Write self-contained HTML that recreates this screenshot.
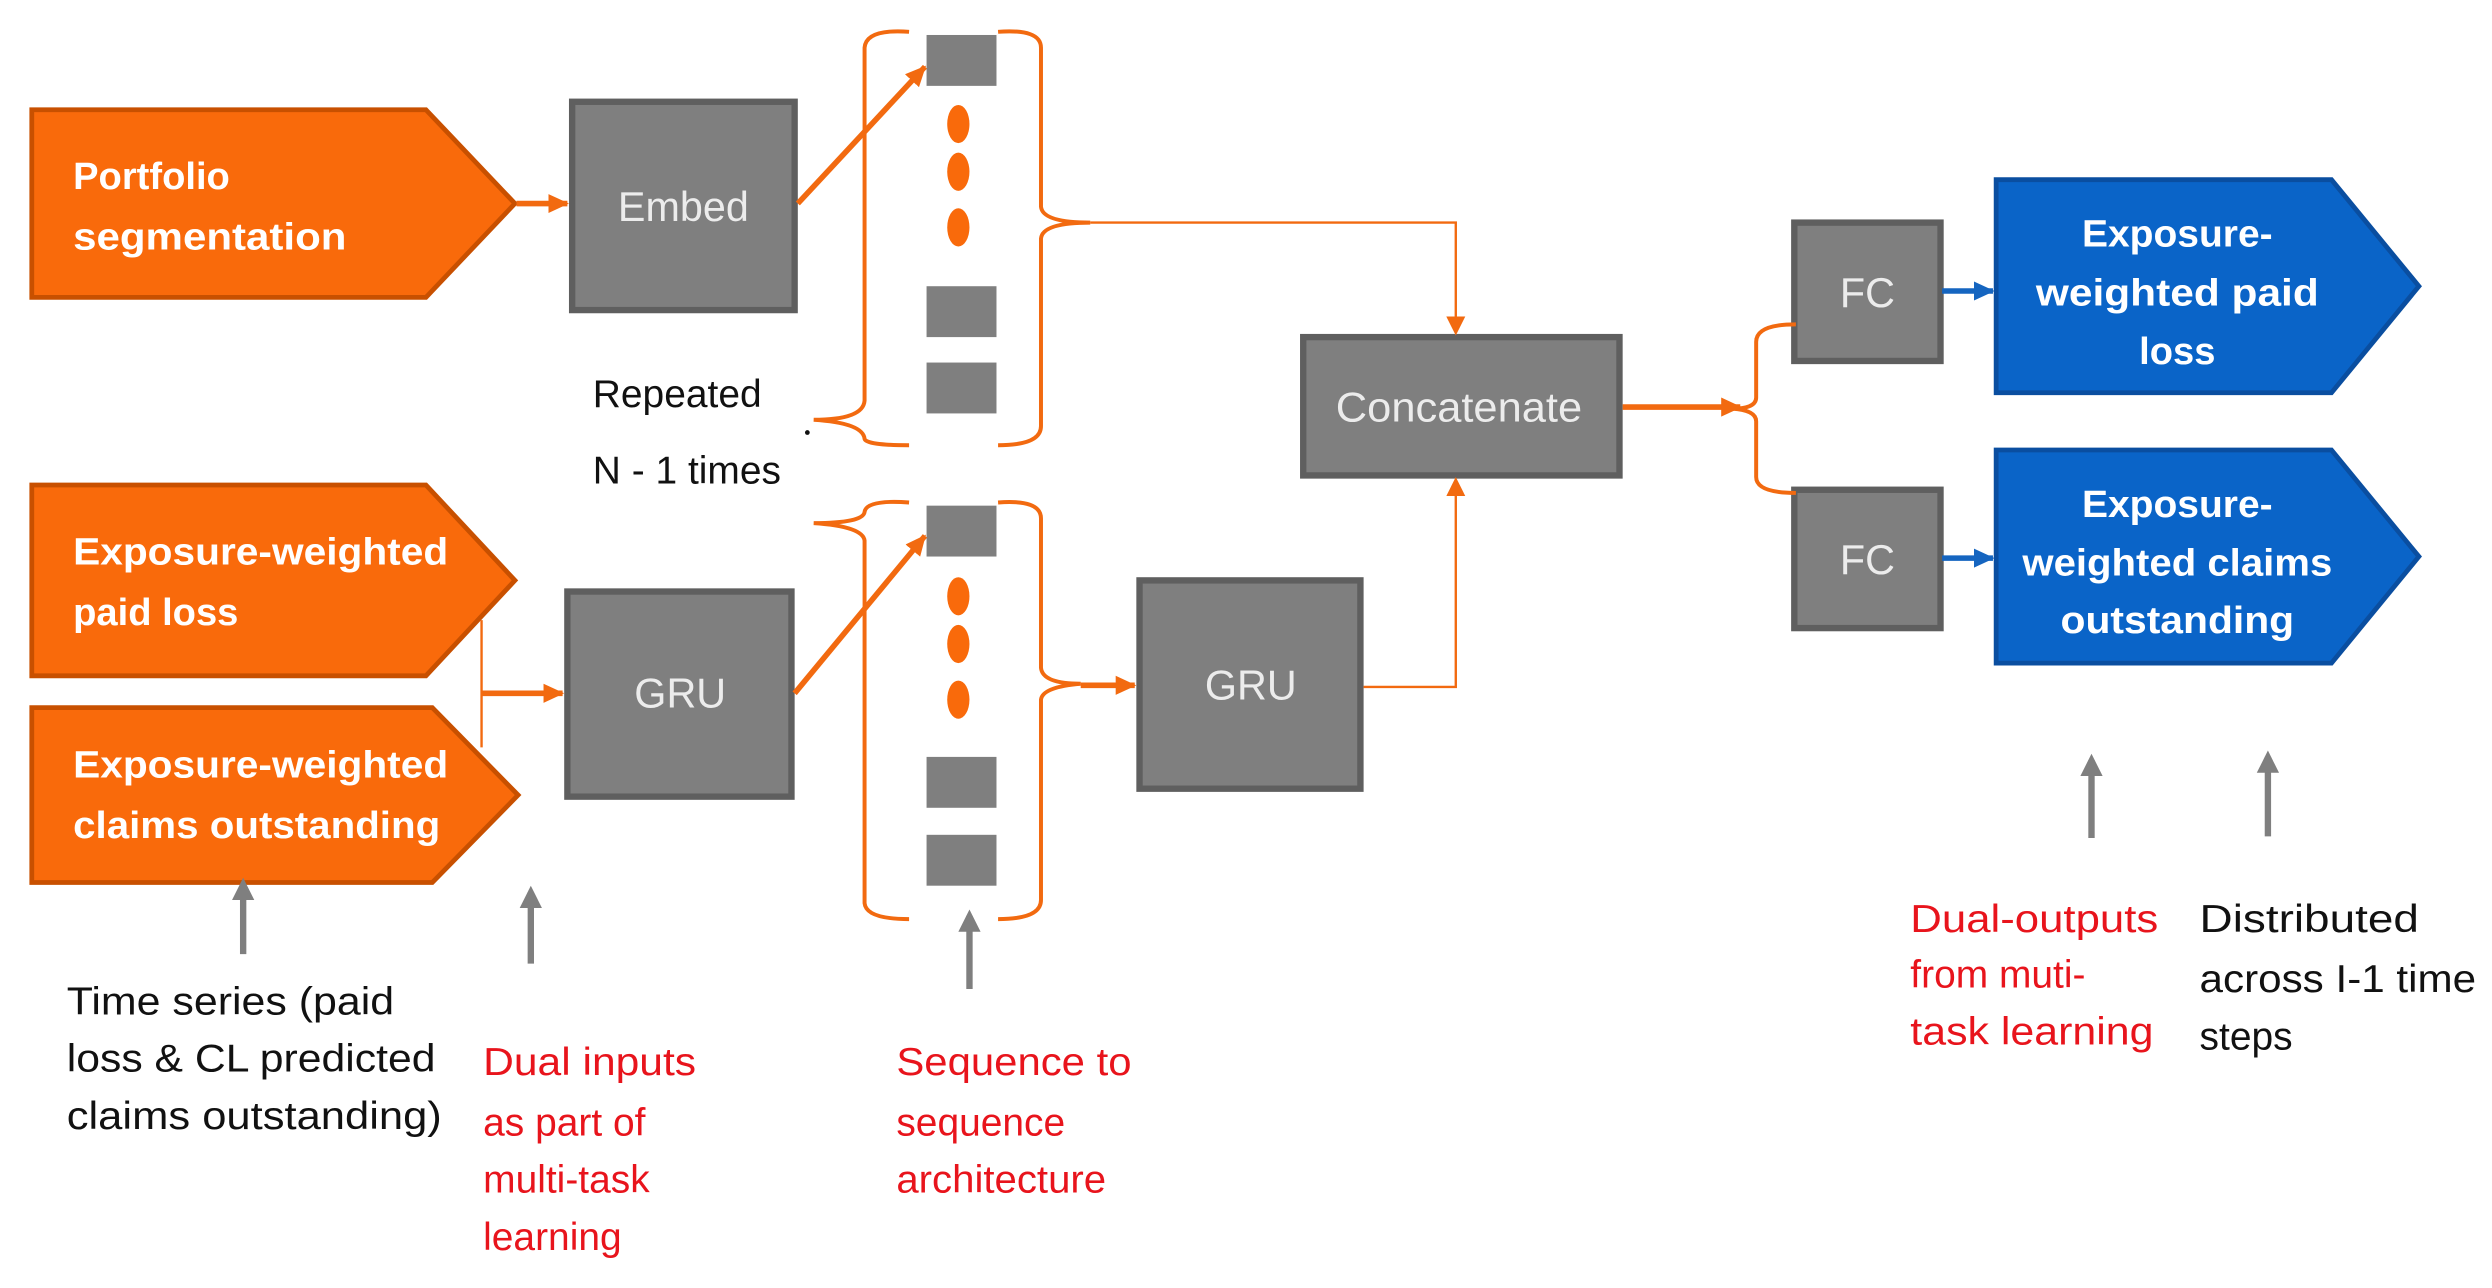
<!DOCTYPE html>
<html><head><meta charset="utf-8"><style>html,body{margin:0;padding:0;background:#fff}svg{display:block}</style></head>
<body>
<svg width="2492" height="1288" viewBox="0 0 1568 810" preserveAspectRatio="none" xmlns="http://www.w3.org/2000/svg" font-family="Liberation Sans, sans-serif">
<defs>
<marker id="ao" markerWidth="14" markerHeight="14" refX="12" refY="7" orient="auto" markerUnits="userSpaceOnUse"><path d="M0,1 L13,7 L0,13 z" fill="#f26a10"/></marker>
<marker id="ao2" markerWidth="12" markerHeight="12" refX="10" refY="6" orient="auto" markerUnits="userSpaceOnUse"><path d="M0,0 L12,6 L0,12 z" fill="#f26a10"/></marker>
<marker id="ab" markerWidth="14" markerHeight="14" refX="12" refY="7" orient="auto" markerUnits="userSpaceOnUse"><path d="M0,1 L13,7 L0,13 z" fill="#1565c0"/></marker>
<marker id="ag" markerWidth="16" markerHeight="16" refX="10" refY="8" orient="auto" markerUnits="userSpaceOnUse"><path d="M0,1 L14,8 L0,15 z" fill="#7f7f7f"/></marker>
</defs>
<g stroke="#c85000" stroke-width="3" fill="#f96a0b">
<path d="M20,69 H268 L324,128 L268,187 H20 Z"/>
<path d="M20,305 H268 L324,365 L268,425 H20 Z"/>
<path d="M20,445 H272 L326,500 L272,555 H20 Z"/>
</g>
<g stroke="#0a4ea0" stroke-width="3" fill="#0a64c8">
<path d="M1256,113 H1467 L1522,180 L1467,247 H1256 Z"/>
<path d="M1256,283 H1467 L1522,350 L1467,417 H1256 Z"/>
</g>
<g fill="#7f7f7f" stroke="#5f5f5f" stroke-width="4">
<rect x="360" y="64" width="140" height="131"/>
<rect x="357" y="372" width="141" height="129"/>
<rect x="717" y="365" width="139" height="131"/>
<rect x="820" y="212" width="199" height="87"/>
<rect x="1129" y="140" width="92" height="87"/>
<rect x="1129" y="308" width="92" height="87"/>
</g>
<g fill="#7f7f7f">
<rect x="583" y="22" width="44" height="32"/><rect x="583" y="180" width="44" height="32"/><rect x="583" y="228" width="44" height="32"/>
<rect x="583" y="318" width="44" height="32"/><rect x="583" y="476" width="44" height="32"/><rect x="583" y="525" width="44" height="32"/>
</g>
<g fill="#f96a0b">
<ellipse cx="603" cy="78" rx="7" ry="12"/><ellipse cx="603" cy="108" rx="7" ry="12"/><ellipse cx="603" cy="143" rx="7" ry="12"/>
<ellipse cx="603" cy="375" rx="7" ry="12"/><ellipse cx="603" cy="405" rx="7" ry="12"/><ellipse cx="603" cy="440" rx="7" ry="12"/>
</g>
<g fill="none" stroke="#f26a10" stroke-width="2.5">
<path d="M572,20 Q545,18 544,30 V252 Q543,264 512,264 Q543,266 544,276 Q545,280 572,280"/>
<path d="M628,20 Q655,18 655,30 V130 Q656,140 686,140 Q656,140 655,150 V268 Q655,280 628,280"/>
<path d="M572,316 Q545,314 544,322 Q543,329 512,329 Q543,331 544,340 V568 Q545,578 572,578"/>
<path d="M628,316 Q655,314 655,326 V420 Q656,430 680,430 Q656,432 655,440 V566 Q655,578 628,578"/>
<path d="M1130,204 Q1105,204 1105,215 V250 Q1105,257 1090,257 Q1105,258 1105,265 V300 Q1105,310 1130,310"/>
</g>
<g fill="none" stroke="#f26a10" stroke-width="1.5">
<path d="M686,140 H916 V209" marker-end="url(#ao2)"/>
<path d="M858,432 H916 V302" marker-end="url(#ao2)"/>
<path d="M303,390 V470"/>
</g>
<g fill="none" stroke="#f26a10" stroke-width="3.5">
<path d="M325,128 H357" marker-end="url(#ao)"/>
<path d="M502,128 L582,42" marker-end="url(#ao)"/>
<path d="M303,436 H354" marker-end="url(#ao)"/>
<path d="M500,436 L582,337" marker-end="url(#ao)"/>
<path d="M680,431 H714" marker-end="url(#ao)"/>
<path d="M1021,256 H1095" marker-end="url(#ao)"/>
</g>
<g fill="none" stroke="#1565c0" stroke-width="3.5">
<path d="M1222,183 H1254" marker-end="url(#ab)"/>
<path d="M1222,351 H1254" marker-end="url(#ab)"/>
</g>
<g fill="none" stroke="#7f7f7f" stroke-width="4">
<path d="M153,600 V556" marker-end="url(#ag)"/>
<path d="M334,606 V561" marker-end="url(#ag)"/>
<path d="M610,622 V576" marker-end="url(#ag)"/>
<path d="M1316,527 V478" marker-end="url(#ag)"/>
<path d="M1427,526 V476" marker-end="url(#ag)"/>
</g>
<g fill="#fff" font-weight="bold" font-size="24">
<text x="46" y="119">Portfolio</text>
<text x="46" y="157" textLength="172" lengthAdjust="spacingAndGlyphs">segmentation</text>
<text x="46" y="355" textLength="236" lengthAdjust="spacingAndGlyphs">Exposure-weighted</text>
<text x="46" y="393">paid loss</text>
<text x="46" y="489" textLength="236" lengthAdjust="spacingAndGlyphs">Exposure-weighted</text>
<text x="46" y="527" textLength="231" lengthAdjust="spacingAndGlyphs">claims outstanding</text>
<g text-anchor="middle">
<text x="1370" y="155" textLength="120" lengthAdjust="spacingAndGlyphs">Exposure-</text>
<text x="1370" y="192" textLength="178" lengthAdjust="spacingAndGlyphs">weighted paid</text>
<text x="1370" y="229">loss</text>
<text x="1370" y="325" textLength="120" lengthAdjust="spacingAndGlyphs">Exposure-</text>
<text x="1370" y="362" textLength="195" lengthAdjust="spacingAndGlyphs">weighted claims</text>
<text x="1370" y="398" textLength="147" lengthAdjust="spacingAndGlyphs">outstanding</text>
</g>
</g>
<g fill="#ececec" font-size="26" text-anchor="middle">
<text x="430" y="139">Embed</text>
<text x="428" y="445">GRU</text>
<text x="787" y="440">GRU</text>
<text x="918" y="265" textLength="155" lengthAdjust="spacingAndGlyphs">Concatenate</text>
<text x="1175" y="193">FC</text>
<text x="1175" y="361">FC</text>
</g>
<g fill="#111" font-size="24.5">
<text x="373" y="256">Repeated</text>
<text x="373" y="304">N - 1 times</text>
<circle cx="508" cy="272" r="1.5"/>
<text x="42" y="638" textLength="206" lengthAdjust="spacingAndGlyphs">Time series (paid</text>
<text x="42" y="674" textLength="232" lengthAdjust="spacingAndGlyphs">loss &amp; CL predicted</text>
<text x="42" y="710" textLength="236" lengthAdjust="spacingAndGlyphs">claims outstanding)</text>
<text x="1384" y="586" textLength="138" lengthAdjust="spacingAndGlyphs">Distributed</text>
<text x="1384" y="624" textLength="174" lengthAdjust="spacingAndGlyphs">across I-1 time</text>
<text x="1384" y="660">steps</text>
</g>
<g fill="#e8141c" font-size="24.5">
<text x="304" y="676" textLength="134" lengthAdjust="spacingAndGlyphs">Dual inputs</text>
<text x="304" y="714">as part of</text>
<text x="304" y="750">multi-task</text>
<text x="304" y="786">learning</text>
<text x="564" y="676" textLength="148" lengthAdjust="spacingAndGlyphs">Sequence to</text>
<text x="564" y="714">sequence</text>
<text x="564" y="750" textLength="132" lengthAdjust="spacingAndGlyphs">architecture</text>
<text x="1202" y="586" textLength="156" lengthAdjust="spacingAndGlyphs">Dual-outputs</text>
<text x="1202" y="621">from muti-</text>
<text x="1202" y="657" textLength="153" lengthAdjust="spacingAndGlyphs">task learning</text>
</g>
</svg>
</body></html>
